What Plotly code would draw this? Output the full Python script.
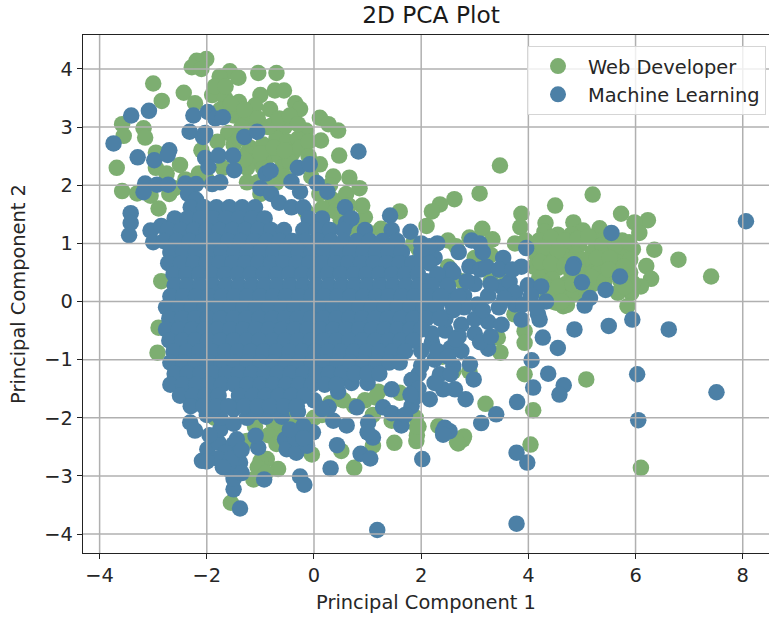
import plotly.graph_objects as go

TITLE = "2D PCA Plot"
X_LABEL = "Principal Component 1"
Y_LABEL = "Principal Component 2"
X_TICKS = [-4, -2, 0, 2, 4, 6, 8]
Y_TICKS = [-4, -3, -2, -1, 0, 1, 2, 3, 4]
X_RANGE = [-4.31, 8.49]
Y_RANGE = [-4.325, 4.584]

web_points = [
    (-2.01,4.17),(-2.19,4.14),(-2.28,4.03),(-2.1,4.0),(-1.57,3.96),(-1.41,3.85),(-1.76,3.87),(-1.04,3.93),(-0.70,3.93),
    (-3.0,3.75),(-2.43,3.59),(-0.73,3.63),(-0.56,3.63),(-2.84,3.45),(-2.22,3.41),(-1.9,3.55),(-1.66,3.5),(-1.0,3.55),
    (-1.4,3.43),(-1.1,3.37),(-0.82,3.31),(-0.35,3.41),(-0.26,3.31),(0.11,3.16),(0.27,3.05),(0.45,2.94),(-0.15,2.94),
    (-3.58,3.05),(-3.18,2.98),(-3.55,2.85),(-3.15,2.82),(0.13,2.77),(-0.2,2.67),(-2.95,2.56),(0.47,2.51),(-3.68,2.3),
    (-2.5,2.35),(-2.95,2.3),(0.11,2.36),(0.36,2.15),(0.66,2.13),(-3.58,1.9),(-3.3,1.86),(-3.05,1.82),
    (-1.85,3.7),(-1.65,3.7),(-1.5,3.2),(-1.25,3.15),(-1.35,3.0),(-1.6,2.9),(-1.8,2.75),(-1.5,2.7),(-1.2,2.65),(-0.95,2.7),
    (-0.75,3.05),(-0.55,3.0),(-0.7,2.8),(-0.5,2.75),(-0.3,2.8),(-0.85,2.5),(-0.65,2.5),(-0.4,2.55),(-1.1,2.45),(-1.25,2.3),
    (-0.95,2.3),(-0.6,2.3),(-0.45,2.4),(-1.25,2.05),(-1.0,1.85),(-0.7,2.05),(-0.05,2.15),(0.35,1.75),(0.6,1.85),(0.5,1.4),
    (0.85,1.95),(0.95,1.45),(1.6,1.55),(1.25,1.25),(0.9,1.65),(-2.9,1.6),(-2.7,1.85),(-2.3,1.95),(-2.85,0.35),(-2.9,-0.45),(-2.92,-0.88),
    (-1.75,3.3),(-1.55,3.4),(-1.3,3.3),(-1.05,3.15),(-0.85,3.0),(-0.65,3.15),(-0.45,3.2),(-0.3,3.05),(-1.1,2.95),(-1.4,2.8),
    (-1.25,2.55),(-1.0,2.55),(-0.75,2.65),(-0.55,2.6),(-0.25,2.65),(-0.1,2.75),(-0.1,2.5),(-0.55,2.15),(-0.8,2.05),(-1.05,2.05),
    (-1.3,2.45),(-1.7,2.3),(-2.1,2.6),(-2.15,2.2),(-2.4,2.1),(-2.75,2.2),(-2.6,1.95),(0.1,1.85),(0.15,1.6),(0.4,1.55),(0.65,1.65),
    (0.3,2.0),(-0.15,1.55),(1.0,1.2),(0.75,1.25),(1.85,1.0),(2.5,1.05),(-2.0,2.1),
    (-1.55,-3.46),(-0.67,-2.88),(-0.88,-2.71),(-1.13,-3.06),(1.50,-2.43),(1.91,-2.40),(0.75,-2.86),(0.51,-2.57),(-0.04,-2.63),
    (2.78,-2.37),(2.69,-2.44),(2.32,-2.14),(1.60,-1.57),(1.10,-2.48),(-1.0,-2.75),(-0.6,-2.3),(-0.4,-2.0),(0.0,-2.0),(0.3,-1.75),
    (0.75,-1.8),(1.2,-1.55),(1.1,-1.95),(1.45,-2.05),(1.95,-2.15),(1.92,-2.3),(-1.85,-2.0),(-1.1,-2.15),(-0.75,-2.1),
    (-0.5,-2.15),(-0.85,-2.3),(-0.7,-2.45),(0.15,-1.95),(0.55,-1.7),(0.95,-1.7),(1.15,-1.65),(1.9,-2.0),(1.92,-2.15),(-1.05,-2.85),
    (-0.9,-2.95),(-1.25,-2.4),
    (3.47,2.34),(3.09,1.86),(2.62,1.76),(2.35,1.67),(5.20,1.84),(4.50,1.65),(3.87,1.51),(3.85,1.28),(3.14,1.25),(3.33,1.07),
    (2.1,1.3),(2.2,1.55),(1.95,0.9),(2.65,0.95),(2.9,1.1),(3.75,1.0),(3.95,1.05),(3.3,0.8),(3.0,0.75),(2.5,0.6),(2.75,0.35),
    (5.73,1.51),(6.23,1.40),(5.98,1.36),(6.07,1.18),(5.33,1.26),(4.84,1.36),(4.32,1.35),(5.02,1.22),(6.35,0.89),(6.80,0.72),
    (7.41,0.43),(6.20,0.61),(6.29,0.39),(6.10,0.26),(5.92,0.15),(5.67,0.15),(5.85,-0.08),(4.65,-0.08),(4.52,-0.02),
    (4.3,1.2),(4.55,1.15),(4.8,1.15),(5.25,1.05),(5.5,1.1),(5.75,1.05),(4.2,1.05),(4.45,0.98),(4.7,0.95),(4.95,0.98),
    (5.2,0.85),(5.45,0.85),(5.7,0.85),(5.95,0.9),(4.15,0.8),(4.4,0.78),(4.65,0.8),(4.9,0.8),(5.15,0.65),(5.4,0.65),(5.65,0.68),
    (5.9,0.72),(4.1,0.6),(4.3,0.55),(4.55,0.58),(4.8,0.5),(5.05,0.5),(5.3,0.5),(5.6,0.5),(5.9,0.5),(4.2,0.4),(4.45,0.38),(4.7,0.3),
    (4.95,0.2),(5.2,0.3),(4.35,0.2),(4.6,0.12),(4.85,0.12),(4.45,0.0),(4.72,-0.06),(3.55,0.5),(3.3,0.35),
    (4.42,1.1),(4.68,1.05),(4.92,1.08),(5.12,1.12),(5.38,0.97),(5.62,0.97),(5.88,1.02),(4.28,0.92),(4.55,0.88),(4.78,0.7),(5.02,0.72),
    (5.28,0.75),(5.52,0.75),(5.78,0.6),(4.22,0.68),(4.42,0.65),(4.68,0.62),(4.92,0.62),(5.18,0.42),(5.42,0.35),(5.72,0.35),(4.3,0.3),
    (4.55,0.25),(4.82,0.3),(5.08,0.15),(4.35,0.08),(4.62,-0.0),(5.95,0.32),(5.8,0.25),(5.5,0.55),
    (3.43,-0.62),(3.93,-0.51),(3.93,-0.71),(3.48,-0.88),(3.93,-1.25),(5.08,-1.34),(3.20,-1.76),(4.09,-1.87),(4.04,-2.46),
    (6.10,-2.86),(2.80,-2.32),(2.67,-2.42),(3.74,-0.22),(2.9,-1.2),(2.6,-1.2),(2.4,-0.95),
]

ml_rows = [
    (1.62, [-2.3,-2.05,-1.82,-1.58,-1.34,-1.1,-0.42,-0.2]),
    (1.43, [-2.6,-2.36,-2.12,-1.88,-1.64,-1.4,-1.16,-0.92,-0.1,0.15,0.7]),
    (1.23, [-2.72,-2.48,-2.24,-2,-1.76,-1.52,-1.28,-1.04,-0.8,-0.56,-0.2,0.05,0.3,0.55,0.95,1.45]),
    (1.04, [-2.8,-2.56,-2.32,-2.08,-1.84,-1.6,-1.36,-1.12,-0.88,-0.64,-0.4,-0.16,0.08,0.32,0.56,0.8,1.04,1.28,1.55]),
    (0.85, [-2.68,-2.44,-2.2,-1.96,-1.72,-1.48,-1.24,-1,-0.76,-0.52,-0.28,-0.04,0.2,0.44,0.68,0.92,1.16,1.4,1.64,2.0]),
    (0.66, [-2.72,-2.48,-2.24,-2,-1.76,-1.52,-1.28,-1.04,-0.8,-0.56,-0.32,-0.08,0.16,0.4,0.64,0.88,1.12,1.36,1.6,1.84,2.15]),
    (0.47, [-2.62,-2.38,-2.14,-1.9,-1.66,-1.42,-1.18,-0.94,-0.7,-0.46,-0.22,0.02,0.26,0.5,0.74,0.98,1.22,1.46,1.7,1.94,2.3]),
    (0.28, [-2.6,-2.36,-2.12,-1.88,-1.64,-1.4,-1.16,-0.92,-0.68,-0.44,-0.2,0.04,0.28,0.52,0.76,1,1.24,1.48,1.72,1.96,2.2,2.5]),
    (0.09, [-2.68,-2.44,-2.2,-1.96,-1.72,-1.48,-1.24,-1,-0.76,-0.52,-0.28,-0.04,0.2,0.44,0.68,0.92,1.16,1.4,1.64,1.88,2.12,2.36,2.7]),
    (-0.10, [-2.76,-2.52,-2.28,-2.04,-1.8,-1.56,-1.32,-1.08,-0.84,-0.6,-0.36,-0.12,0.12,0.36,0.6,0.84,1.08,1.32,1.56,1.8,2.04,2.28,2.6]),
    (-0.29, [-2.7,-2.46,-2.22,-1.98,-1.74,-1.5,-1.26,-1.02,-0.78,-0.54,-0.3,-0.06,0.18,0.42,0.66,0.9,1.14,1.38,1.62,1.86,2.1,2.35]),
    (-0.48, [-2.76,-2.52,-2.28,-2.04,-1.8,-1.56,-1.32,-1.08,-0.84,-0.6,-0.36,-0.12,0.12,0.36,0.6,0.84,1.08,1.32,1.56,1.8,2.0]),
    (-0.67, [-2.7,-2.46,-2.22,-1.98,-1.74,-1.5,-1.26,-1.02,-0.78,-0.54,-0.3,-0.06,0.18,0.42,0.66,0.9,1.14,1.38,1.62,1.85]),
    (-0.86, [-2.62,-2.38,-2.14,-1.9,-1.66,-1.42,-1.18,-0.94,-0.7,-0.46,-0.22,0.02,0.26,0.5,0.74,0.98,1.22,1.46,1.7]),
    (-1.05, [-2.68,-2.44,-2.2,-1.96,-1.72,-1.48,-1.24,-1,-0.76,-0.52,-0.28,-0.04,0.2,0.44,0.68,0.92,1.16,1.4,1.6]),
    (-1.24, [-2.6,-2.36,-2.12,-1.88,-1.64,-1.4,-1.16,-0.92,-0.68,-0.44,-0.2,0.04,0.28,0.52,0.76,1,1.22]),
    (-1.43, [-2.68,-2.44,-2.2,-1.96,-1.72,-1.48,-1.24,-1,-0.76,-0.52,-0.28,-0.04,0.2,0.42]),
    (-1.62, [-2.5,-2.26,-2.02,-1.78,-1.4,-1.14,-0.9,-0.66,-0.42,-0.18]),
    (-1.80, [-2.3,-2.06,-1.82,-1.6,-1.3,-1.05,-0.82,-0.56,-0.32]),
]

ml_points = [
    (-3.41,3.20),(-3.08,3.28),(-3.74,2.72),(-3.29,2.48),(-2.98,2.43),(-2.70,2.60),(-2.73,2.52),(-2.25,3.20),(-1.98,3.26),
    (-1.84,3.15),(-1.70,3.17),(-2.32,2.92),(-2.07,2.83),(-2.03,2.90),(-1.30,2.83),(-1.06,2.92),(-2.03,2.47),(-1.78,2.51),
    (-1.51,2.51),(-1.97,2.31),(-1.49,2.26),(-0.90,2.20),(-0.81,2.25),(-0.30,2.30),(-0.08,2.36),(-0.42,2.06),(-0.26,1.89),
    (0.05,2.04),(0.25,1.89),(0.58,1.62),(0.83,2.58),(-3.15,2.03),(-3.18,1.88),(-2.93,2.01),(-2.72,2.01),(-2.4,2.03),(-2.2,2.02),
    (-1.9,2.02),(-1.75,2.05),(-2.35,1.85),(-2.2,1.75),(-3.42,1.52),(-3.42,1.35),(-3.45,1.14),(-3.05,1.22),(-3.0,1.02),(-2.85,1.3),
    (-1.0,1.95),(-0.8,1.85),(-0.65,1.7),(0.6,1.35),(0.1,1.1),(1.8,1.2),(1.42,1.48),
    (0.27,-0.9),(2.3,1.0),(2.25,0.75),(2.55,0.55),(2.9,0.6),(3.0,0.3),(2.8,0.1),(3.05,-0.05),(3.25,0.1),(3.5,0.25),(3.1,0.55),
    (3.53,0.75),(3.87,0.60),(3.22,0.60),(3.65,0.34),(3.99,0.28),(4.24,0.26),(4.33,0.0),(4.18,-0.22),(4.21,-0.31),(3.87,-0.31),
    (2.94,1.05),(3.09,1.00),(3.96,0.92),(2.7,0.85),(2.5,0.2),(2.6,-0.15),(2.75,-0.4),(3.0,-0.55),(3.25,-0.35),(3.5,-0.4),(3.45,-0.1),(3.75,-0.05),
    (2.45,-0.5),(2.2,-0.7),(2.55,-0.8),(2.75,-0.85),(2.25,-1.0),(2.0,-1.1),(2.91,-1.08),(2.60,-1.11),(3.25,-0.81),
    (2.1,0.35),(2.35,0.4),(2.6,0.5),(2.85,0.35),(2.35,0.1),(2.55,0.0),(2.8,-0.1),(2.3,-0.2),(2.45,-0.3),(2.7,-0.6),(3.0,-0.3),(3.15,-0.15),
    (3.3,0.3),(3.15,0.85),(3.45,0.55),(3.7,0.55),(3.75,0.15),(3.55,0.05),(3.9,-0.05),(4.05,0.1),(4.15,-0.1),(2.2,-0.55),(2.0,-0.85),(2.3,-0.85),
    (2.5,-0.95),(2.35,-1.25),(2.65,-0.65),(1.95,-1.25),(3.1,-0.7),(3.3,-0.6),(2.0,1.0),(2.15,0.95),(2.0,0.7),
    (8.06,1.38),(5.55,1.18),(4.85,0.64),(5.00,0.33),(5.71,0.43),(5.44,0.20),(5.15,0.06),(5.05,-0.07),(4.83,0.58),
    (5.94,-0.31),(4.86,-0.48),(5.50,-0.42),(6.62,-0.48),(4.27,-0.62),(4.55,-0.80),(4.06,-1.01),(4.37,-1.24),(6.03,-1.25),
    (2.98,-1.34),(4.09,-1.48),(4.66,-1.44),(4.58,-1.60),(7.51,-1.56),(3.79,-1.73),(3.40,-1.94),(3.12,-2.09),(6.05,-2.04),
    (3.78,-2.60),(3.98,-2.77),(3.78,-3.82),(2.83,-1.68),(2.53,-2.23),(2.41,-2.23),(2.63,-1.51),(2.41,-1.51),
    (-1.38,-3.56),(1.18,-3.93),(-0.93,-3.06),(-0.26,-3.01),(-0.18,-3.15),(0.31,-2.87),(0.43,-2.47),(0.87,-2.62),(1.05,-2.70),
    (2.02,-2.71),(-1.50,-3.23),(-2.09,-2.74),(-1.99,-2.54),(-1.78,-2.43),(-1.44,-2.37),(-1.38,-2.77),(-1.56,-2.91),(-1.04,-2.51),
    (-1.09,-2.31),(-0.54,-2.37),(-0.51,-2.54),(-0.33,-2.60),(-0.13,-2.48),(-0.02,-2.25),(-0.20,-2.14),(0.36,-2.05),(0.61,-2.13),
    (1.01,-2.08),(1.10,-2.34),(1.63,-2.13),(2.44,-2.17),(2.41,-2.29),(1.82,-1.80),(1.91,-1.63),(1.45,-1.51),(1.82,-1.35),
    (2.16,-1.68),(0.80,-1.82),(0.27,-1.82),(1.29,-1.82),(1.45,-1.92),(-2.31,-2.08),(-2.22,-2.22),(-1.75,-2.2),(-1.5,-2.1),
    (-1.95,-2.3),(-0.9,-1.98),(-0.6,-1.98),(-1.25,-2.0),(-1.5,-1.85),
    (-2.0,-1.95),(-1.75,-2.0),(-1.5,-2.45),(-1.65,-2.6),(-1.8,-2.7),(-1.55,-2.7),(-1.35,-2.55),(-1.7,-2.85),(-1.5,-3.05),(-1.35,-2.95),
    (-2.0,-2.75),(-1.1,-1.9),(-0.7,-1.85),(-0.3,-1.9),(0.0,-1.7),(0.45,-1.55),(0.7,-1.4),(1.0,-1.4),(1.2,-1.1),(-0.35,-2.35),(-0.2,-2.35),
    (0.15,-1.85),(-0.45,-2.2),(1.0,-2.25),(1.7,-1.95),(1.95,-1.5),(1.8,-1.6),(2.25,-1.4),(2.55,-1.25),
]

for row_y, row_xs in ml_rows:
    ml_points.extend((row_x, row_y) for row_x in row_xs)

web_x, web_y = zip(*web_points)
ml_x, ml_y = zip(*ml_points)

fig = go.Figure()
fig.add_trace(go.Scatter(x=web_x, y=web_y, mode="markers", name="Web Developer", legendgroup="web",
                         marker=dict(size=16.5, color="#7DAE71", line=dict(width=0))))
fig.add_trace(go.Scatter(x=ml_x, y=ml_y, mode="markers", name="Machine Learning", legendgroup="ml",
                         marker=dict(size=16.5, color="#4C80A6", line=dict(width=0))))

for t in X_TICKS:
    fig.add_shape(type="line", xref="x", yref="paper", x0=t, x1=t, y0=0, y1=1, layer="above",
                  line=dict(color="#B0B0B0", width=1.5))
for t in Y_TICKS:
    fig.add_shape(type="line", xref="paper", yref="y", x0=0, x1=1, y0=t, y1=t, layer="above",
                  line=dict(color="#B0B0B0", width=1.5))

axis_font = dict(family="DejaVu Sans", size=19.4, color="#262626")
fig.update_layout(
    width=769, height=617,
    margin=dict(l=83, r=0, t=35, b=64),
    paper_bgcolor="white", plot_bgcolor="white",
    font=axis_font,
    title=dict(text=TITLE, x=431 / 769, xref="container", xanchor="center", y=1 - 15 / 617,
               yanchor="middle", font=dict(family="DejaVu Sans", size=23.3, color="#1a1a1a")),
    xaxis=dict(range=X_RANGE, tickvals=X_TICKS, ticktext=[str(t).replace("-", "\u2212") for t in X_TICKS],
               showgrid=False, zeroline=False, ticks="outside", ticklen=5, tickwidth=1.4, tickcolor="#222",
               showline=True, linecolor="#222", linewidth=1.4, mirror=True,
               title=dict(text=X_LABEL, standoff=8, font=axis_font)),
    yaxis=dict(range=Y_RANGE, tickvals=Y_TICKS, ticktext=[str(t).replace("-", "\u2212") for t in Y_TICKS],
               showgrid=False, zeroline=False, ticks="outside", ticklen=5, tickwidth=1.4, tickcolor="#222",
               showline=True, linecolor="#222", linewidth=1.4, mirror=True,
               title=dict(text=Y_LABEL, standoff=13, font=axis_font)),
    legend=dict(x=(527 - 83) / (769 - 83), xanchor="left", y=1 - (46 - 35) / 518, yanchor="top",
                xref="paper", yref="paper",
                bgcolor="rgba(255,255,255,0.8)", bordercolor="#D5D5D5", borderwidth=1,
                itemwidth=50, tracegroupgap=0, font=axis_font, itemsizing="trace"),
)

fig.write_html("out.html", config={"displayModeBar": False},
               post_script="document.body.style.margin='0';")
